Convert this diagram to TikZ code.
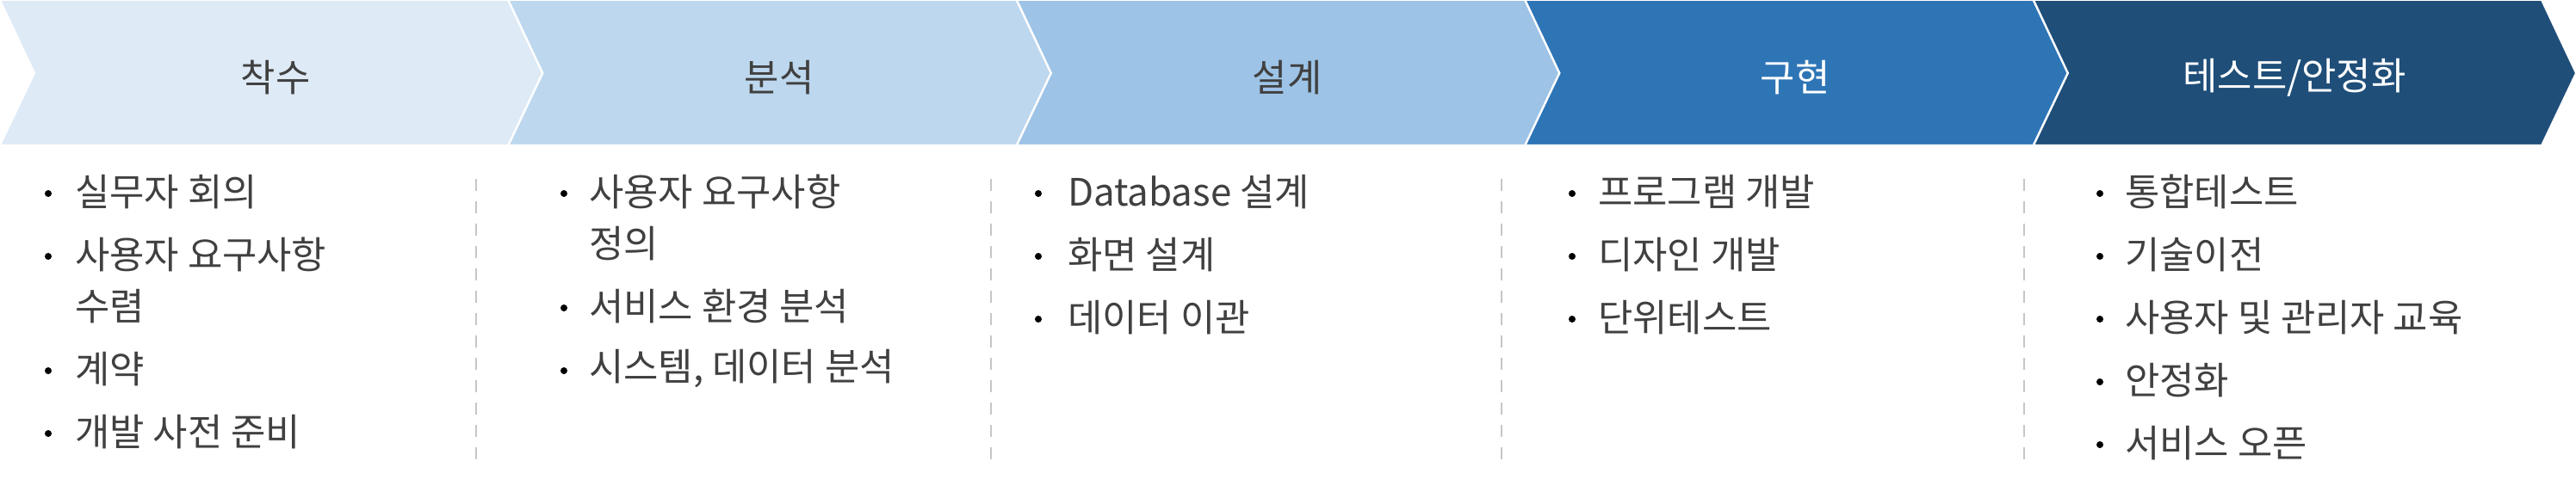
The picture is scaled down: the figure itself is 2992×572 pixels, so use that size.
\documentclass[tikz,border=0pt]{standalone}
\usepackage{fontspec}
\setmainfont{Noto Sans CJK KR}
\definecolor{cA}{HTML}{DEEAF6}
\definecolor{cB}{HTML}{BDD7EE}
\definecolor{cC}{HTML}{9DC3E6}
\definecolor{cD}{HTML}{2E75B6}
\definecolor{cE}{HTML}{1F4E79}
\definecolor{txt}{HTML}{404040}
\begin{document}
\begin{tikzpicture}[x=1bp,y=-1bp,
  ttl/.style={font=\fontsize{44}{50}\selectfont, anchor=center},
  itm/.style={font=\fontsize{44}{50}\selectfont, text=txt, anchor=west, inner sep=0pt},
  dot/.style={circle, fill=black, inner sep=0pt, minimum size=8bp},
  sep/.style={draw=gray!45, line width=1.5bp, dash pattern=on 14bp off 12bp}]
\useasboundingbox (0,0) rectangle (2992,572);
\foreach \i/\c in {0/cA,1/cB,2/cC,3/cD,4/cE}{
  \fill[\c, draw=white, line width=2bp] ({\i*590.5},0) -- ({\i*590.5+590},0) -- ({\i*590.5+630},85) -- ({\i*590.5+590},169) -- ({\i*590.5},169) -- ({\i*590.5+40},85) -- cycle;
}
\node[ttl, text=txt] (t1) at (320,90) {착수};
\node[ttl, text=txt] (t2) at (905,90) {분석};
\node[ttl, text=txt] (t3) at (1495,90) {설계};
\node[ttl, text=white] (t4) at (2085,90) {구현};
\node[ttl, text=white] (t5) at (2665,90) {테스트/안정화};
\foreach \x/\n in {553/s1,1151/s2,1744/s3,2351/s4}{
  \coordinate (\n a) at (\x,208); \coordinate (\n b) at (\x,544);
  \draw[sep] (\n a) -- (\n b);
}
% column 1
\node[dot] (b11) at (56,225) {}; \node[itm] (i11) at (87,223) {실무자 회의};
\node[dot] (b12) at (56,298) {}; \node[itm] (i12) at (87,296) {사용자 요구사항};
\node[itm] (i12b) at (87,356) {수렴};
\node[dot] (b13) at (56,431) {}; \node[itm] (i13) at (87,429) {계약};
\node[dot] (b14) at (56,504) {}; \node[itm] (i14) at (87,502) {개발 사전 준비};
% column 2
\node[dot] (b21) at (655,225) {}; \node[itm] (i21) at (684,223) {사용자 요구사항};
\node[itm] (i21b) at (684,283) {정의};
\node[dot] (b22) at (655,358) {}; \node[itm] (i22) at (684,356) {서비스 환경 분석};
\node[dot] (b23) at (655,431) {}; \node[itm] (i23) at (684,429) {시스템, 데이터 분석};
% column 3
\node[dot] (b31) at (1206,225) {}; \node[itm] (i31) at (1240,223) {Database 설계};
\node[dot] (b32) at (1206,298) {}; \node[itm] (i32) at (1240,296) {화면 설계};
\node[dot] (b33) at (1206,371) {}; \node[itm] (i33) at (1240,369) {데이터 이관};
% column 4
\node[dot] (b41) at (1826,225) {}; \node[itm] (i41) at (1856,223) {프로그램 개발};
\node[dot] (b42) at (1826,298) {}; \node[itm] (i42) at (1856,296) {디자인 개발};
\node[dot] (b43) at (1826,371) {}; \node[itm] (i43) at (1856,369) {단위테스트};
% column 5
\node[dot] (b51) at (2439,225) {}; \node[itm] (i51) at (2468,223) {통합테스트};
\node[dot] (b52) at (2439,298) {}; \node[itm] (i52) at (2468,296) {기술이전};
\node[dot] (b53) at (2439,371) {}; \node[itm] (i53) at (2468,369) {사용자 및 관리자 교육};
\node[dot] (b54) at (2439,444) {}; \node[itm] (i54) at (2468,442) {안정화};
\node[dot] (b55) at (2439,517) {}; \node[itm] (i55) at (2468,515) {서비스 오픈};
\end{tikzpicture}
\end{document}
